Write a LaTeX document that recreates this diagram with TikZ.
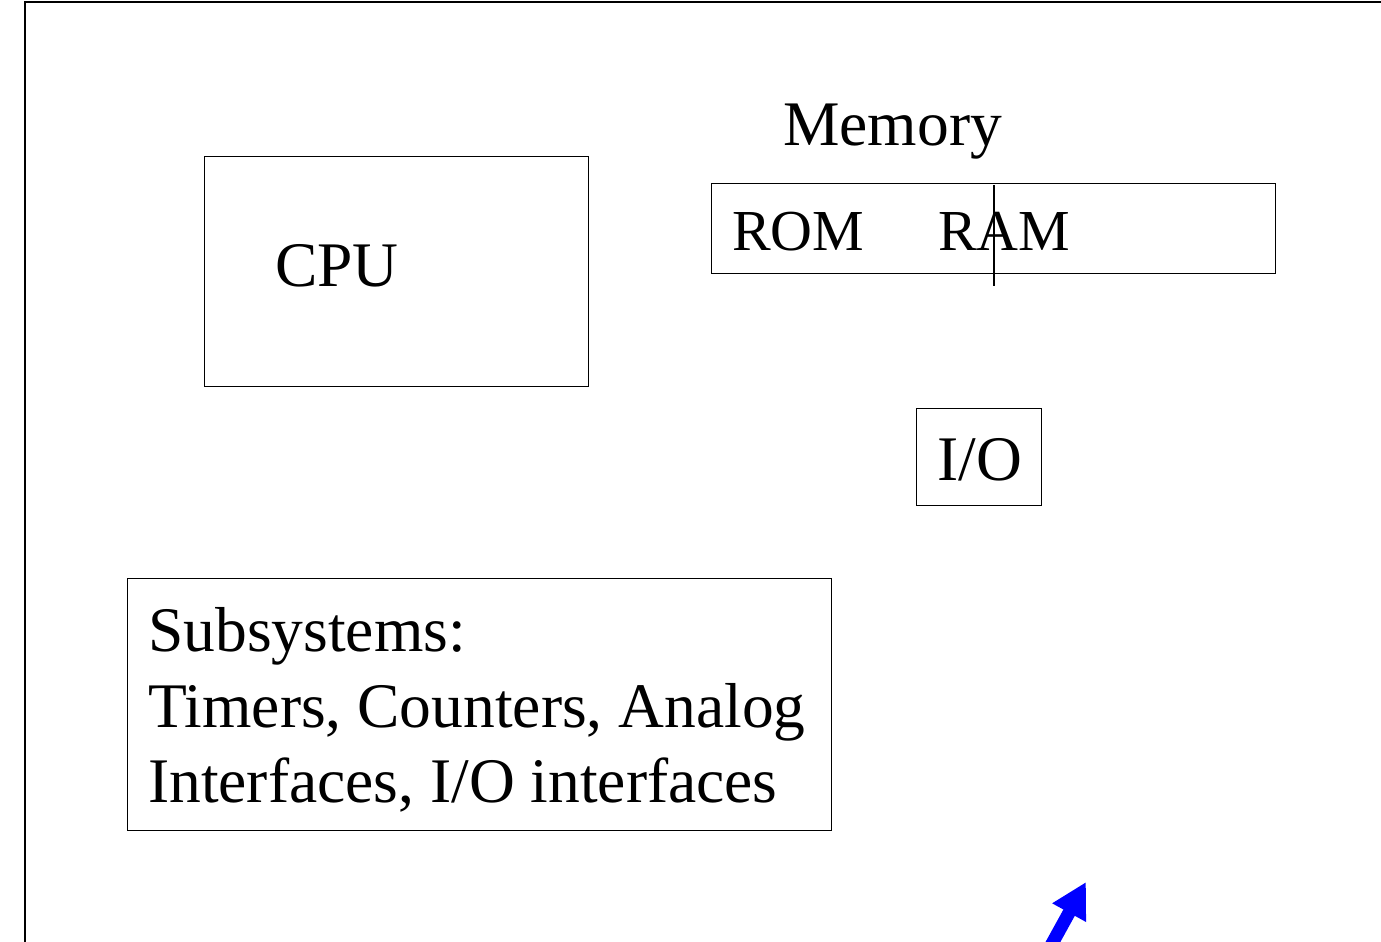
\documentclass[tikz,border=0pt]{standalone}
\usepackage{fontspec}
\setmainfont{Liberation Serif}
\usetikzlibrary{arrows.meta}
\tikzset{
  box/.style={draw=black, line width=1.4pt, inner sep=0pt, anchor=north west},
  lbl/.style={inner sep=0pt, anchor=base west, font=\fontsize{63.5}{75}\selectfont},
  smalllbl/.style={lbl, font=\fontsize{58}{70}\selectfont},
  frame/.style={draw=black, line width=2.2pt},
  bluearrow/.style={draw=blue, line width=13pt, -{Triangle[width=36pt,length=35pt]}}
}
\begin{document}
\begin{tikzpicture}[x=1pt,y=-1pt]
\useasboundingbox (0,0) rectangle (1381,942);
% outer frame
\coordinate (fbl) at (25,980);
\coordinate (ftl) at (25,2);
\coordinate (ftr) at (1420,2);
\draw[frame] (fbl) -- (ftl) -- (ftr);
% boxes
\node[box, minimum width=384pt, minimum height=230pt] (cpu) at (204,156) {};
\node[box, minimum width=564pt, minimum height=90pt] (mem) at (711,183) {};
\node[box, minimum width=125pt, minimum height=97pt] (io) at (916,408) {};
\node[box, minimum width=704pt, minimum height=252pt] (sub) at (127,578) {};
% labels
\node[lbl] (memlbl) at (783,145) {Memory};
\node[smalllbl] (rom) at (732,250) {ROM};
\node[smalllbl] (ram) at (938,250) {RAM};
\node[lbl] (cpulbl) at (275,286) {CPU};
\node[lbl] (iolbl) at (937,480) {I/O};
\node[lbl] (sub1) at (148,651) {Subsystems:};
\node[lbl] (sub2) at (148,727) {Timers, Counters, Analog};
\node[lbl] (sub3) at (148,802) {Interfaces, I/O interfaces};
% divider line
\coordinate (dtop) at (994,185);
\coordinate (dbot) at (994,286);
\draw[line width=1.3pt] (dtop) -- (dbot);
% blue arrow
\coordinate (astart) at (1043,960);
\coordinate (atip) at (1086,882);
\draw[bluearrow] (astart) -- (atip);
\end{tikzpicture}
\end{document}
